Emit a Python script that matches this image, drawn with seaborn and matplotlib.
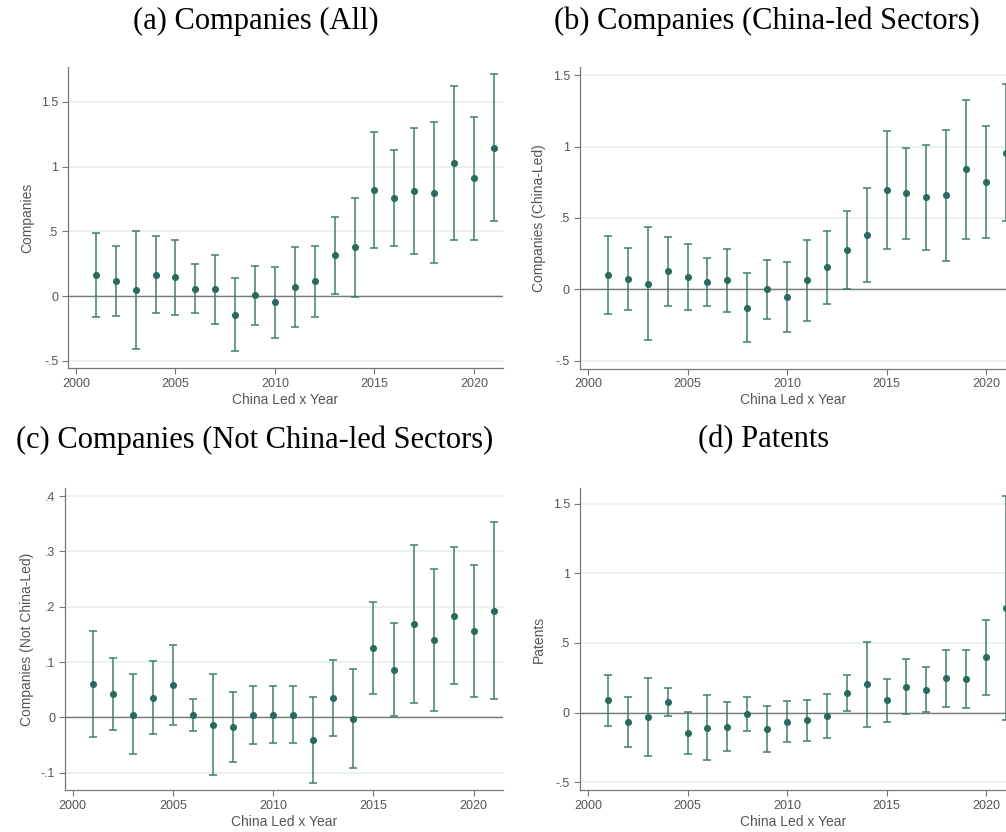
import numpy as np
import pandas as pd
import matplotlib
matplotlib.use("Agg")
import matplotlib.pyplot as plt
import seaborn as sns

# event-study estimates
years = list(range(2001, 2022))

all_coef = [0.162, 0.116, 0.046, 0.165, 0.147, 0.057, 0.052, -0.144, 0.008, -0.046, 0.070,
            0.116, 0.314, 0.376, 0.820, 0.760, 0.812, 0.799, 1.026, 0.910, 1.147]
all_lo = [-0.162, -0.155, -0.407, -0.131, -0.142, -0.131, -0.216, -0.425, -0.219, -0.320, -0.240,
          -0.160, 0.015, -0.005, 0.371, 0.389, 0.327, 0.255, 0.430, 0.433, 0.580]
all_hi = [0.485, 0.384, 0.500, 0.464, 0.433, 0.245, 0.320, 0.139, 0.235, 0.227, 0.376,
          0.389, 0.613, 0.760, 1.268, 1.129, 1.296, 1.345, 1.620, 1.381, 1.714]

cl_coef = [0.100, 0.072, 0.040, 0.128, 0.086, 0.054, 0.063, -0.128, 0.002, -0.051, 0.063,
           0.154, 0.278, 0.380, 0.693, 0.672, 0.644, 0.658, 0.840, 0.751, 0.954]
cl_lo = [-0.170, -0.142, -0.352, -0.112, -0.145, -0.114, -0.156, -0.366, -0.203, -0.294, -0.217,
         -0.103, 0.005, 0.054, 0.280, 0.352, 0.273, 0.196, 0.355, 0.359, 0.476]
cl_hi = [0.371, 0.287, 0.436, 0.369, 0.320, 0.217, 0.285, 0.112, 0.208, 0.191, 0.345,
         0.411, 0.551, 0.707, 1.108, 0.991, 1.012, 1.117, 1.327, 1.145, 1.435]

ncl_coef = [0.060, 0.043, 0.005, 0.036, 0.059, 0.004, -0.013, -0.017, 0.004, 0.004, 0.005,
            -0.041, 0.035, -0.003, 0.125, 0.086, 0.168, 0.140, 0.184, 0.156, 0.193]
ncl_lo = [-0.035, -0.022, -0.066, -0.030, -0.013, -0.025, -0.104, -0.080, -0.048, -0.047, -0.046,
          -0.118, -0.033, -0.092, 0.042, 0.002, 0.026, 0.011, 0.060, 0.037, 0.033]
ncl_hi = [0.156, 0.107, 0.078, 0.102, 0.131, 0.034, 0.078, 0.046, 0.056, 0.056, 0.056,
          0.037, 0.103, 0.087, 0.209, 0.170, 0.311, 0.269, 0.308, 0.275, 0.353]

pat_coef = [0.089, -0.065, -0.031, 0.074, -0.146, -0.108, -0.103, -0.010, -0.117, -0.065, -0.055,
            -0.026, 0.141, 0.206, 0.089, 0.187, 0.165, 0.246, 0.244, 0.397, 0.751]
pat_lo = [-0.096, -0.244, -0.313, -0.026, -0.297, -0.340, -0.278, -0.134, -0.285, -0.208, -0.201,
          -0.184, 0.012, -0.100, -0.065, -0.010, 0.002, 0.041, 0.036, 0.124, -0.055]
pat_hi = [0.273, 0.115, 0.249, 0.175, 0.007, 0.124, 0.074, 0.115, 0.050, 0.081, 0.091,
          0.134, 0.270, 0.510, 0.244, 0.383, 0.328, 0.452, 0.450, 0.665, 1.557]

titles = ["(a) Companies (All)", "(b) Companies (China-led Sectors)",
          "(c) Companies (Not China-led Sectors)", "(d) Patents"]
ylabels = ["Companies", "Companies (China-Led)", "Companies (Not China-Led)", "Patents"]
xticks = [2000, 2005, 2010, 2015, 2020]
yticks_big = [-0.5, 0, 0.5, 1, 1.5]
yticklabels_big = ["-.5", "0", ".5", "1", "1.5"]
yticks_small = [-0.1, 0, 0.1, 0.2, 0.3, 0.4]
yticklabels_small = ["-.1", "0", ".1", ".2", ".3", ".4"]

sns.set_theme(style="white")
plt.rcParams['font.family'] = ['Liberation Sans', 'DejaVu Sans']

W, H = 1006, 832
fig = plt.figure(figsize=(W / 100, H / 100), dpi=100)

dot = "#2a6a5e"
bar = "#3f7d72"
grey = "#555555"

# (left px, top px, right px, bottom px, xlim, ylim)
panels = [
    (68, 67, 503, 368, (1999.6, 2021.46), (-0.555, 1.77), all_coef, all_lo, all_hi, yticks_big, yticklabels_big),
    (579.7, 67, 1006, 368.7, (1999.58, 2021.0), (-0.554, 1.556), cl_coef, cl_lo, cl_hi, yticks_big, yticklabels_big),
    (65, 488.3, 503, 790, (1999.62, 2021.46), (-0.131, 0.414), ncl_coef, ncl_lo, ncl_hi, yticks_small, yticklabels_small),
    (579.7, 488.3, 1006, 790, (1999.58, 2021.0), (-0.555, 1.61), pat_coef, pat_lo, pat_hi, yticks_big, yticklabels_big),
]

for i, (l, t, r, b, xl, yl, coef, lo, hi, yt, ytl) in enumerate(panels):
    ax = fig.add_axes([l / W, 1 - b / H, (r - l) / W, (b - t) / H])
    df = pd.DataFrame({"year": years, "coef": coef, "lo": lo, "hi": hi})

    for y in yt:
        ax.axhline(y, color="#e8f0f0", lw=1.3, zorder=0)
    ax.axhline(0, color="#7a7a7a", lw=1.0, zorder=1)

    ax.errorbar(df["year"], df["coef"],
                yerr=[df["coef"] - df["lo"], df["hi"] - df["coef"]],
                fmt="none", ecolor=bar, elinewidth=1.1, capsize=2.6, capthick=1.1, zorder=2)
    sns.scatterplot(data=df, x="year", y="coef", ax=ax, color=dot, s=26,
                    edgecolor=dot, linewidth=0, zorder=3, legend=False)

    ax.set_xlim(*xl)
    ax.set_ylim(*yl)
    ax.set_xticks(xticks)
    ax.set_yticks(yt)
    ax.set_yticklabels(ytl)
    ax.tick_params(axis="both", length=4, width=0.8, color="#777777", labelcolor=grey,
                   labelsize=9, pad=3, left=True, bottom=True)
    ax.set_xlabel("China Led x Year", color=grey, fontsize=10, labelpad=2)
    ax.set_ylabel(ylabels[i], color=grey, fontsize=10, labelpad=5)
    sns.despine(ax=ax)
    for s in ["left", "bottom"]:
        ax.spines[s].set_color("#777777")
        ax.spines[s].set_linewidth(0.9)
    ax.grid(False)

title_pos = [(256, 21), (767, 21), (255, 440), (764, 440)]
for (x, y), ttl in zip(title_pos, titles):
    fig.text(x / W, 1 - y / H, ttl, ha="center", va="center",
             fontsize=22, family=["Liberation Serif", "DejaVu Serif"], color="black")

fig.savefig("out.png", dpi=100)
